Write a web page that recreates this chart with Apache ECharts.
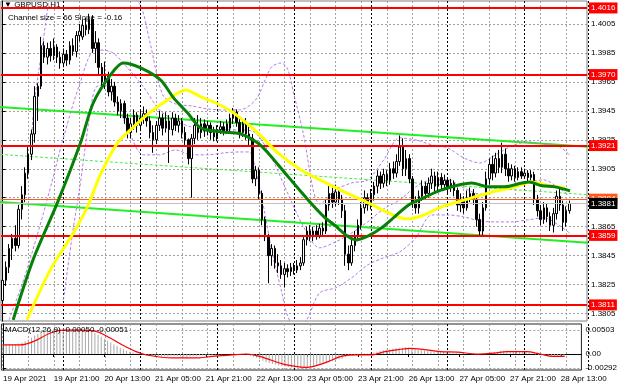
<!DOCTYPE html>
<html><head><meta charset="utf-8">
<script src="https://cdn.jsdelivr.net/npm/echarts@6/dist/echarts.min.js"></script>
<style>html,body{margin:0;padding:0;background:#fff}#c{width:620px;height:388px}</style>
</head><body><div id="c"></div>
<script>
// ---------- DATA ----------
const tradingDays = [['19 Apr',5,23],['20 Apr',0,23],['21 Apr',0,23],['22 Apr',0,23],['23 Apr',0,23],['26 Apr',0,23],['27 Apr',0,23],['28 Apr',0,19]];
const xTickLabels = ["19 Apr 2021","19 Apr 21:00","20 Apr 13:00","21 Apr 05:00","21 Apr 21:00","22 Apr 13:00","23 Apr 05:00","23 Apr 21:00","26 Apr 13:00","27 Apr 05:00","27 Apr 21:00","28 Apr 13:00"];
const priceTicks = [1.4005,1.3985,1.3965,1.3945,1.3925,1.3905,1.3885,1.3865,1.3845,1.3825,1.3805];
const macdTicks = [0.00503,0,-0.00292];
const levels = [1.4016,1.3970,1.3921,1.3859,1.3811];
const markPrice = 1.3884;
const bidPrice = 1.3881;
const daySeparators = [19,43,67,91,115,139,163];
const timeGridEvery = 8;

const openP = [1.3814,1.3828,1.3837,1.3850,1.3857,1.3852,1.3877,1.3887,1.3902,1.3915,
1.3929,1.3955,1.3962,1.3990,1.3982,1.3988,1.3983,1.3989,1.3982,1.3978,
1.3984,1.3980,1.3990,1.3986,1.3997,1.3996,1.4004,1.4001,1.4008,1.3988,
1.3992,1.3975,1.3965,1.3970,1.3958,1.3962,1.3951,1.3945,1.3950,1.3940,
1.3930,1.3936,1.3942,1.3935,1.3940,1.3943,1.3938,1.3930,1.3925,1.3935,
1.3940,1.3933,1.3938,1.3932,1.3940,1.3935,1.3938,1.3930,1.3925,1.3912,
1.3926,1.3935,1.3930,1.3936,1.3931,1.3935,1.3930,1.3927,1.3932,1.3934,
1.3931,1.3933,1.3940,1.3944,1.3937,1.3930,1.3936,1.3929,1.3926,1.3898,
1.3904,1.3888,1.3870,1.3858,1.3845,1.3850,1.3840,1.3838,1.3832,1.3836,
1.3834,1.3837,1.3835,1.3838,1.3840,1.3856,1.3862,1.3858,1.3862,1.3859,
1.3864,1.3862,1.3880,1.3888,1.3882,1.3889,1.3884,1.3876,1.3846,1.3840,
1.3852,1.3858,1.3866,1.3878,1.3885,1.3880,1.3887,1.3893,1.3900,1.3895,
1.3901,1.3897,1.3905,1.3902,1.3910,1.3920,1.3905,1.3912,1.3898,1.3882,
1.3878,1.3886,1.3893,1.3888,1.3895,1.3900,1.3893,1.3899,1.3894,1.3897,
1.3892,1.3895,1.3890,1.3880,1.3884,1.3878,1.3885,1.3888,1.3884,1.3870,
1.3862,1.3878,1.3898,1.3908,1.3902,1.3912,1.3906,1.3915,1.3905,1.3900,
1.3905,1.3899,1.3903,1.3900,1.3902,1.3899,1.3901,1.3884,1.3876,1.3870,
1.3878,1.3872,1.3866,1.3874,1.3886,1.3880,1.3868,1.3876];
const highP = [1.3833,1.3841,1.3853,1.3860,1.3866,1.3880,1.3893,1.3906,1.3920,1.3932,
1.3962,1.3964,1.3996,1.3993,1.3992,1.3993,1.3995,1.3991,1.3986,1.3988,
1.3987,1.3993,1.3995,1.4000,1.4005,1.4008,1.4009,1.4012,1.4011,1.4000,
1.3995,1.3978,1.3979,1.3972,1.3967,1.3965,1.3955,1.3953,1.3952,1.3943,
1.3940,1.3946,1.3944,1.3945,1.3948,1.3946,1.3941,1.3935,1.3938,1.3945,
1.3943,1.3944,1.3942,1.3944,1.3943,1.3942,1.3940,1.3934,1.3926,1.3929,
1.3940,1.3942,1.3940,1.3939,1.3938,1.3937,1.3934,1.3935,1.3938,1.3937,
1.3939,1.3943,1.3947,1.3946,1.3940,1.3939,1.3940,1.3934,1.3929,1.3907,
1.3906,1.3890,1.3872,1.3860,1.3853,1.3852,1.3846,1.3842,1.3840,1.3839,
1.3840,1.3840,1.3842,1.3844,1.3858,1.3865,1.3866,1.3865,1.3866,1.3867,
1.3868,1.3884,1.3893,1.3892,1.3894,1.3892,1.3887,1.3880,1.3852,1.3858,
1.3862,1.3870,1.3882,1.3890,1.3888,1.3891,1.3896,1.3904,1.3903,1.3905,
1.3904,1.3909,1.3910,1.3915,1.3928,1.3926,1.3918,1.3915,1.3900,1.3886,
1.3890,1.3897,1.3896,1.3899,1.3905,1.3903,1.3903,1.3902,1.3901,1.3899,
1.3898,1.3897,1.3892,1.3888,1.3886,1.3890,1.3892,1.3891,1.3887,1.3874,
1.3882,1.3903,1.3912,1.3914,1.3916,1.3918,1.3923,1.3919,1.3909,1.3908,
1.3907,1.3906,1.3906,1.3905,1.3904,1.3904,1.3903,1.3887,1.3880,1.3882,
1.3881,1.3875,1.3878,1.3890,1.3893,1.3883,1.3879,1.3883];
const lowP = [1.3810,1.3824,1.3833,1.3842,1.3848,1.3850,1.3870,1.3882,1.3898,1.3911,
1.3923,1.3938,1.3960,1.3978,1.3977,1.3979,1.3980,1.3978,1.3974,1.3975,
1.3976,1.3977,1.3983,1.3982,1.3993,1.3994,1.3997,1.3998,1.3985,1.3978,
1.3970,1.3962,1.3960,1.3955,1.3952,1.3948,1.3942,1.3940,1.3936,1.3926,
1.3926,1.3932,1.3930,1.3931,1.3936,1.3934,1.3926,1.3916,1.3922,1.3931,
1.3928,1.3930,1.3909,1.3928,1.3931,1.3930,1.3926,1.3920,1.3908,1.3885,
1.3922,1.3925,1.3926,1.3927,1.3928,1.3925,1.3924,1.3924,1.3929,1.3928,
1.3929,1.3930,1.3936,1.3934,1.3926,1.3927,1.3925,1.3921,1.3895,1.3893,
1.3884,1.3866,1.3855,1.3826,1.3838,1.3836,1.3833,1.3829,1.3823,1.3830,
1.3831,1.3832,1.3833,1.3835,1.3838,1.3852,1.3855,1.3855,1.3856,1.3857,
1.3859,1.3860,1.3876,1.3878,1.3879,1.3880,1.3871,1.3838,1.3835,1.3838,
1.3848,1.3855,1.3863,1.3874,1.3876,1.3877,1.3883,1.3888,1.3891,1.3892,
1.3893,1.3894,1.3898,1.3899,1.3907,1.3900,1.3900,1.3895,1.3878,1.3874,
1.3874,1.3883,1.3884,1.3885,1.3891,1.3889,1.3890,1.3890,1.3891,1.3888,
1.3889,1.3886,1.3876,1.3875,1.3874,1.3876,1.3882,1.3880,1.3865,1.3859,
1.3859,1.3876,1.3894,1.3897,1.3899,1.3902,1.3902,1.3900,1.3896,1.3897,
1.3896,1.3897,1.3898,1.3898,1.3896,1.3897,1.3880,1.3872,1.3866,1.3867,
1.3868,1.3862,1.3861,1.3870,1.3876,1.3862,1.3865,1.3874];
const closeP = [1.3828,1.3837,1.3850,1.3857,1.3852,1.3877,1.3887,1.3902,1.3915,1.3929,
1.3955,1.3962,1.3990,1.3982,1.3988,1.3983,1.3989,1.3982,1.3978,1.3984,
1.3980,1.3990,1.3986,1.3997,1.4000,1.4004,1.4001,1.4008,1.3988,1.3992,
1.3975,1.3965,1.3970,1.3958,1.3962,1.3951,1.3945,1.3950,1.3940,1.3930,
1.3936,1.3942,1.3935,1.3940,1.3943,1.3938,1.3930,1.3925,1.3935,1.3940,
1.3933,1.3938,1.3932,1.3940,1.3935,1.3938,1.3930,1.3925,1.3912,1.3926,
1.3935,1.3930,1.3936,1.3931,1.3935,1.3930,1.3927,1.3932,1.3934,1.3931,
1.3936,1.3940,1.3944,1.3937,1.3930,1.3936,1.3929,1.3926,1.3898,1.3904,
1.3888,1.3870,1.3858,1.3845,1.3850,1.3840,1.3838,1.3832,1.3836,1.3834,
1.3837,1.3835,1.3838,1.3840,1.3856,1.3862,1.3858,1.3862,1.3859,1.3864,
1.3862,1.3880,1.3888,1.3882,1.3889,1.3884,1.3876,1.3846,1.3840,1.3852,
1.3858,1.3866,1.3878,1.3885,1.3880,1.3887,1.3893,1.3900,1.3895,1.3901,
1.3897,1.3905,1.3902,1.3910,1.3920,1.3905,1.3912,1.3898,1.3882,1.3878,
1.3886,1.3893,1.3888,1.3895,1.3900,1.3893,1.3899,1.3894,1.3897,1.3892,
1.3895,1.3890,1.3880,1.3884,1.3878,1.3885,1.3888,1.3884,1.3870,1.3862,
1.3878,1.3898,1.3908,1.3902,1.3912,1.3906,1.3915,1.3905,1.3900,1.3905,
1.3899,1.3903,1.3900,1.3902,1.3899,1.3901,1.3884,1.3876,1.3870,1.3878,
1.3872,1.3866,1.3874,1.3886,1.3880,1.3868,1.3876,1.3881];

// moving averages: [bar index, price]
const maFast = [[3.3,1.38007],[9.5,1.38421],[17.1,1.38814],[24.3,1.39228],[28.3,1.39504],[33.7,1.39698],[37.7,1.39780],[43.1,1.39746],[49.3,1.39663],[53.4,1.39539],[57.8,1.39435],[61.9,1.39332],[68.2,1.39304],[74.4,1.39290],[79.7,1.39228],[82.9,1.39159],[89.2,1.38994],[95.4,1.38835],[100.4,1.38718],[103.6,1.38662],[108,1.38580],[110.5,1.38559],[114.2,1.38586],[118.3,1.38642],[122.4,1.38718],[126.8,1.38800],[130.8,1.38842],[137.1,1.38904],[146.5,1.38952],[151.8,1.38925],[156.8,1.38925],[162.2,1.38952],[164.4,1.38959],[168.5,1.38932],[172.5,1.38925],[177.2,1.38897]];
const maSlow = [[7.6,1.38007],[14.9,1.38352],[22.1,1.38607],[26.5,1.38787],[30.5,1.39007],[35.9,1.39228],[40.9,1.39339],[46.2,1.39442],[51.5,1.39525],[57.2,1.39594],[61.9,1.39546],[66.6,1.39504],[72.2,1.39435],[79.7,1.39297],[86,1.39159],[93.2,1.39042],[100.4,1.38959],[106.7,1.38890],[114.2,1.38814],[120.5,1.38745],[126.1,1.38704],[130.8,1.38724],[137.1,1.38787],[144.3,1.38835],[151.8,1.38883],[160,1.38925],[165.3,1.38959],[170.7,1.38932],[175.7,1.38918]];

// Bollinger-style bands (purple dotted): [bar index, price]
const bandUpper = [[9,1.39249],[10,1.39525],[12,1.39829],[14,1.40146],[16,1.40491],[29,1.40284],[39,1.40250],[43,1.40181],[46,1.39925],[50,1.39560],[54,1.39497],[59,1.39484],[64,1.39463],[69,1.39456],[74,1.39456],[79,1.39525],[82,1.39663],[84,1.39753],[87,1.39780],[89,1.39739],[91,1.39560],[94,1.39284],[97,1.38904],[99,1.38807],[104,1.38904],[109,1.38952],[114,1.38973],[119,1.39111],[124,1.39263],[129,1.39249],[134,1.39215],[139,1.39194],[144,1.39125],[149,1.39090],[154,1.39146],[159,1.39208],[164,1.39235],[169,1.39221],[174,1.39201],[177,1.39146]];
const bandMid = [[2,1.38007],[6,1.38248],[9,1.38455],[14,1.38842],[19,1.39263],[24,1.39629],[29,1.39870],[34,1.39856],[39,1.39746],[44,1.39615],[49,1.39456],[54,1.39380],[59,1.39339],[64,1.39325],[69,1.39318],[74,1.39318],[79,1.39297],[84,1.39125],[89,1.38883],[94,1.38649],[99,1.38504],[104,1.38545],[109,1.38607],[114,1.38683],[119,1.38773],[124,1.38835],[129,1.38925],[134,1.38973],[139,1.38973],[144,1.38918],[149,1.38876],[154,1.38897],[159,1.38925],[164,1.38959],[169,1.38973],[174,1.38911],[177,1.38863]];
const bandLower = [[19,1.38145],[22,1.38628],[24,1.38904],[27,1.39387],[29,1.39608],[32,1.39629],[34,1.39580],[39,1.39332],[44,1.39146],[49,1.39146],[54,1.39180],[59,1.39146],[64,1.39146],[69,1.39159],[74,1.39166],[77,1.39166],[79,1.39042],[82,1.38731],[84,1.38490],[87,1.38214],[89,1.38034],[92,1.37938],[95,1.38007],[99,1.38193],[104,1.38228],[109,1.38297],[114,1.38386],[119,1.38435],[124,1.38476],[129,1.38573],[134,1.38731],[139,1.38731],[144,1.38718],[149,1.38690],[154,1.38683],[159,1.38683],[164,1.38697],[169,1.38711],[174,1.38656],[177,1.38607]];

// regression channel
const channelUpper = [[-0.8,1.39477],[183.2,1.39201]];
const channelMid = [[-0.8,1.39149],[183.2,1.38870]];
const channelLower = [[-0.8,1.38821],[183.2,1.38538]];

// MACD main (histogram), one per bar
const macdMain = [0.0019,0.0019,0.0020,0.0021,0.0021,0.0022,0.0024,0.0027,0.0030,0.0034,
0.0039,0.0042,0.0046,0.0048,0.0050,0.0051,0.0052,0.0053,0.0053,0.0054,
0.0054,0.0053,0.0052,0.0052,0.0051,0.0050,0.0049,0.0048,0.0046,0.0044,
0.0040,0.0036,0.0032,0.0028,0.0024,0.0020,0.0017,0.0013,0.0010,0.0007,
0.0005,0.0003,0.0001,0.0000,-0.0001,-0.0002,-0.0003,-0.0004,-0.0004,-0.0004,
-0.0005,-0.0004,-0.0005,-0.0004,-0.0004,-0.0004,-0.0005,-0.0005,-0.0006,-0.0005,
-0.0004,-0.0004,-0.0003,-0.0003,-0.0003,-0.0002,-0.0002,-0.0001,-0.0001,-0.0001,
0.0000,0.0000,0.0001,0.0001,0.0000,0.0000,-0.0001,-0.0001,-0.0004,-0.0006,
-0.0008,-0.0011,-0.0014,-0.0017,-0.0019,-0.0021,-0.0022,-0.0024,-0.0025,-0.0026,
-0.0027,-0.0028,-0.0029,-0.0029,-0.0030,-0.0030,-0.0029,-0.0028,-0.0027,-0.0025,
-0.0023,-0.0021,-0.0019,-0.0017,-0.0015,-0.0012,-0.0011,-0.0010,-0.0006,-0.0004,
-0.0003,-0.0002,-0.0001,0.0000,0.0001,0.0001,0.0002,0.0003,0.0005,0.0007,
0.0008,0.0009,0.0010,0.0011,0.0012,0.0013,0.0013,0.0014,0.0013,0.0011,
0.0010,0.0009,0.0008,0.0007,0.0006,0.0006,0.0005,0.0005,0.0004,0.0004,
0.0003,0.0003,0.0002,0.0002,0.0001,0.0001,0.0000,0.0000,-0.0001,-0.0001,
-0.0001,0.0001,0.0002,0.0003,0.0004,0.0004,0.0005,0.0006,0.0007,0.0007,
0.0007,0.0007,0.0007,0.0006,0.0006,0.0005,0.0003,0.0001,-0.0001,-0.0002,
-0.0003,-0.0004,-0.0005,-0.0004,-0.0004,-0.0005,-0.0005,-0.0005];
// MACD signal: [bar index, value]
const macdSignal = [[0,0.0019],[5.5,0.0019],[9.5,0.0026],[15,0.0044],[19,0.0050],[24,0.0050],[29.6,0.0047],[33.7,0.0034],[37.7,0.0019],[42,0.0005],[45.3,-0.0002],[53.4,-0.0008],[61.9,-0.0008],[66,-0.0005],[72.2,-0.0002],[76.6,0],[79.7,-0.0003],[82.9,-0.0009],[87.9,-0.0020],[92.3,-0.0026],[95.4,-0.0028],[98,-0.0026],[102.6,-0.0016],[106.7,-0.0005],[112,-0.0002],[116.1,-0.0002],[120.5,0.0005],[124.6,0.0009],[128.6,0.0012],[138,0.0005],[143.4,0.0004],[149.7,0],[155,0.0002],[159,0.0005],[165.3,0.0005],[169.4,0],[173.8,-0.0005],[177.2,-0.0005]];

// ---------- BUILD ----------
const categories = [];
tradingDays.forEach(([d,h0,h1]) => { for (let h=h0; h<=h1; h++) categories.push(d+' '+String(h).padStart(2,'0')+':00'); });
const candleData = openP.map((o,i)=>[o, closeP[i], lowP[i], highP[i]]);

const FONT = 'Liberation Sans, Arial, sans-serif';
const P_MIN = 1.37999, P_MAX = 1.40208, M_MIN = -0.00335, M_MAX = 0.00629, X_MIN = -0.5, X_MAX = 182.5;
const gridDots = {color:'#a0a0a0', width:1, type:[2,2]};
const dayDots = {color:'#000000', width:1, type:[2,2]};
const isDay = i => daySeparators.indexOf(i) >= 0;
const isTimeGrid = i => i % timeGridEvery === 0 && !isDay(i);

// hidden category axes (on grids shifted half a bar) that only draw vertical split lines through bar centres
function splitAxis(gridIndex, test, style){
  return {type:'category', gridIndex:gridIndex, data:categories, boundaryGap:true,
    axisLine:{show:false}, axisTick:{show:false}, axisLabel:{show:false},
    splitLine:{show:true, interval:(i)=>test(i), lineStyle:style}};
}
const hiddenY = g => ({type:'value', gridIndex:g, min:0, max:1, show:false, splitLine:{show:false}});

const lvlLabel = (bg) => ({show:true, position:'end', distance:2, color:'#fff', backgroundColor:bg, padding:[2,2,1,2], fontSize:8, fontFamily:FONT, formatter:p=>Number(p.value).toFixed(4)});
const bandStyle = {color:'#b57be8', width:1, type:[3,2]};

const chart = echarts.init(document.getElementById('c'), null, {renderer:'canvas'});
chart.setOption({
  animation:false,
  backgroundColor:'#fff',
  grid:[
    {left:1, top:1, width:586, height:320, show:true, borderColor:'#808080', borderWidth:1},
    {left:1, top:324, width:586, height:46, show:true, borderColor:'#222', borderWidth:1},
    {left:2.6, top:1, width:586, height:320, show:false},
    {left:2.6, top:324, width:586, height:46, show:false}
  ],
  xAxis:[
    {type:'category', gridIndex:0, data:categories, boundaryGap:true, axisLine:{show:false}, axisTick:{show:false}, axisLabel:{show:false}, splitLine:{show:false}},
    {type:'value', gridIndex:0, min:X_MIN, max:X_MAX, show:false},
    {type:'category', gridIndex:1, data:categories, boundaryGap:true,
      axisLine:{show:true, lineStyle:{color:'#000'}},
      axisTick:{show:true, alignWithLabel:true, interval:15, length:3, lineStyle:{color:'#000'}},
      axisLabel:{interval:15, align:'left', margin:5, fontSize:8, color:'#000', fontFamily:FONT, formatter:(v,i)=>xTickLabels[i/16]||''},
      splitLine:{show:false}},
    {type:'value', gridIndex:1, min:X_MIN, max:X_MAX, show:false},
    splitAxis(2, isTimeGrid, gridDots),
    splitAxis(2, isDay, dayDots),
    splitAxis(3, isTimeGrid, gridDots),
    splitAxis(3, isDay, dayDots)
  ],
  yAxis:[
    {type:'value', gridIndex:0, position:'right', min:P_MIN, max:P_MAX, scale:true,
      axisLine:{show:true, lineStyle:{color:'#000'}},
      axisTick:{show:true, length:3, customValues:priceTicks, lineStyle:{color:'#000'}},
      axisLabel:{customValues:priceTicks, formatter:v=>Number(v).toFixed(4), fontSize:8, color:'#000', margin:4, fontFamily:FONT},
      splitLine:{show:true, lineStyle:gridDots}},
    {type:'value', gridIndex:1, position:'right', min:M_MIN, max:M_MAX,
      axisLine:{show:true, lineStyle:{color:'#000'}},
      axisTick:{show:true, length:3, customValues:macdTicks, lineStyle:{color:'#000'}},
      axisLabel:{customValues:macdTicks, formatter:v=>Math.abs(v)<1e-9?'0.00':Number(v).toFixed(5), fontSize:8, color:'#000', margin:4, fontFamily:FONT},
      splitLine:{show:true, lineStyle:gridDots}},
    hiddenY(2),
    hiddenY(3)
  ],
  graphic:[
    {type:'text', left:4, top:1, z:100, style:{text:'\u25BC GBPUSD,H1', font:'8px '+FONT, fill:'#000'}},
    {type:'text', left:8, top:14, z:100, style:{text:'Channel size = 66 Slope = -0.16', font:'8px '+FONT, fill:'#000'}},
    {type:'text', left:5, top:326, z:100, style:{text:'MACD(12,26,9) -0.00050 -0.00051', font:'8px '+FONT, fill:'#000'}}
  ],
  series:[
    // empty series so the split-line helper axes are laid out
    {type:'line', xAxisIndex:4, yAxisIndex:2, data:[], silent:true},
    {type:'line', xAxisIndex:5, yAxisIndex:2, data:[], silent:true},
    {type:'line', xAxisIndex:6, yAxisIndex:3, data:[], silent:true},
    {type:'line', xAxisIndex:7, yAxisIndex:3, data:[], silent:true},
    // channel
    {type:'line', xAxisIndex:1, yAxisIndex:0, data:channelUpper, symbol:'none', z:2, lineStyle:{color:'#22ee22', width:2}},
    {type:'line', xAxisIndex:1, yAxisIndex:0, data:channelLower, symbol:'none', z:2, lineStyle:{color:'#22ee22', width:2}},
    {type:'line', xAxisIndex:1, yAxisIndex:0, data:channelMid, symbol:'none', z:2, lineStyle:{color:'#44ee44', width:1, type:[3,2]}},
    // bands
    {type:'line', xAxisIndex:1, yAxisIndex:0, data:bandUpper, symbol:'none', smooth:0.3, z:2, lineStyle:bandStyle},
    {type:'line', xAxisIndex:1, yAxisIndex:0, data:bandMid, symbol:'none', smooth:0.3, z:2, lineStyle:bandStyle},
    {type:'line', xAxisIndex:1, yAxisIndex:0, data:bandLower, symbol:'none', smooth:0.3, z:2, lineStyle:bandStyle},
    // levels
    {type:'line', xAxisIndex:1, yAxisIndex:0, data:[], z:3, silent:true,
      markLine:{symbol:'none', silent:true, animation:false, precision:6,
        data: levels.map(v=>({yAxis:v, lineStyle:{color:'#ff0000', width:2, type:'solid'}, label:lvlLabel('#ff0000')}))
          .concat([{yAxis:markPrice, lineStyle:{color:'#ff5a1e', width:1, type:'solid'}, label:lvlLabel('#ff5a1e')},
                   {yAxis:bidPrice, lineStyle:{color:'#c0c0c0', width:1, type:'solid'}, label:lvlLabel('#000')}])}},
    // candles
    {type:'candlestick', xAxisIndex:0, yAxisIndex:0, data:candleData, barWidth:2, z:4,
      itemStyle:{color:'#ffffff', color0:'#000000', borderColor:'#000000', borderColor0:'#000000', borderWidth:1}},
    // moving averages
    {type:'line', xAxisIndex:1, yAxisIndex:0, data:maSlow, symbol:'none', smooth:0.3, z:5, lineStyle:{color:'#ffff00', width:3}},
    {type:'line', xAxisIndex:1, yAxisIndex:0, data:maFast, symbol:'none', smooth:0.3, z:6, lineStyle:{color:'#078007', width:3}},
    // MACD
    {type:'bar', xAxisIndex:2, yAxisIndex:1, data:macdMain, barWidth:1, z:3, itemStyle:{color:'#a8a8a8'}},
    {type:'line', xAxisIndex:3, yAxisIndex:1, data:macdSignal, symbol:'none', smooth:0.3, z:4, lineStyle:{color:'#ff0000', width:1.2}}
  ]
});
</script></body></html>
